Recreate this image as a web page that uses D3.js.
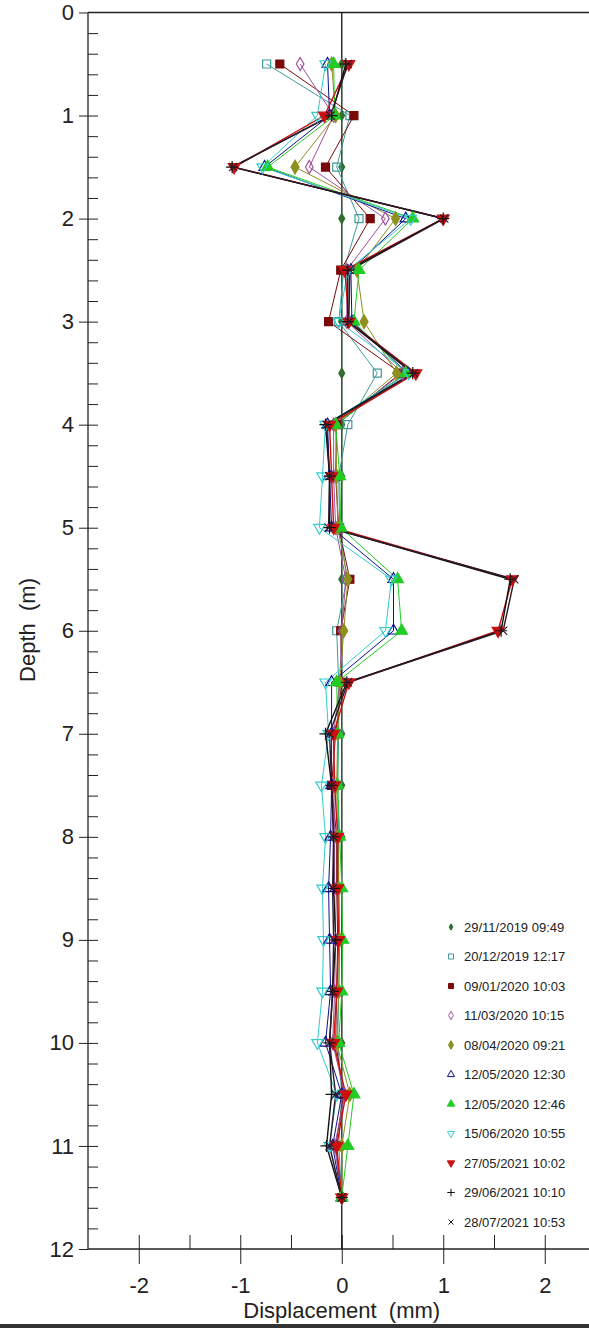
<!DOCTYPE html>
<html>
<head>
<meta charset="utf-8">
<script src="https://d3js.org/d3.v7.min.js"></script>
<style>
  body { margin: 0; background: #fff; }
  text { font-family: Arial, "Liberation Sans", sans-serif; fill: #222; }
</style>
</head>
<body>
<div id="my_dataviz"></div>
<script>
// depths of the readings (m)
var depths = [0.5, 1, 1.5, 2, 2.5, 3, 3.5, 4, 4.5, 5, 5.5, 6, 6.5, 7, 7.5, 8, 8.5, 9, 9.5, 10, 10.5, 11, 11.5];

// reading dates (legend)
var readingNames = ["29/11/2019 09:49", "20/12/2019 12:17", "09/01/2020 10:03", "11/03/2020 10:15",
                    "08/04/2020 09:21", "12/05/2020 12:30", "12/05/2020 12:46", "15/06/2020 10:55",
                    "27/05/2021 10:02", "29/06/2021 10:10", "28/07/2021 10:53"];

// displacement (mm) for each reading, top to bottom
var r20191129 = [0, 0, 0, 0, 0, 0, 0, 0, 0, 0, 0, 0, 0, 0, 0, 0, 0, 0, 0, 0, 0, 0, 0];
var r20191220 = [-0.74, 0.08, -0.05, 0.17, 0.02, -0.03, 0.35, 0.06, -0.03, -0.02, 0.05, -0.05, -0.03, -0.03, -0.04, -0.03, -0.03, -0.02, -0.03, -0.04, 0.0, -0.03, 0];
var r20200109 = [-0.61, 0.12, -0.16, 0.28, -0.01, -0.13, 0.58, -0.05, -0.06, -0.03, 0.08, -0.01, 0.0, -0.06, -0.1, -0.05, -0.05, -0.04, -0.05, -0.06, 0.02, -0.06, 0];
var r20200311 = [-0.41, -0.08, -0.32, 0.43, 0.05, 0.05, 0.6, -0.08, -0.08, -0.06, 0.04, 0.0, -0.02, -0.08, -0.08, -0.07, -0.07, -0.06, -0.07, -0.09, 0.03, -0.07, 0];
var r20200408 = [-0.1, -0.06, -0.46, 0.53, 0.15, 0.22, 0.54, -0.06, -0.05, -0.04, 0.06, 0.02, -0.02, -0.04, -0.05, -0.04, -0.03, -0.02, -0.03, -0.05, 0.08, 0.0, 0];
var r20200512a = [-0.14, -0.12, -0.76, 0.63, 0.09, 0.1, 0.65, -0.14, -0.12, -0.1, 0.51, 0.51, -0.1, -0.1, -0.1, -0.11, -0.13, -0.12, -0.11, -0.16, 0.0, -0.09, 0];
var r20200512b = [-0.08, -0.07, -0.73, 0.7, 0.17, 0.12, 0.63, -0.06, -0.02, -0.01, 0.55, 0.59, -0.05, -0.04, -0.04, -0.02, 0.0, 0.01, 0.0, -0.03, 0.12, 0.06, 0];
var r20200615 = [-0.16, -0.24, -0.78, 0.68, 0.06, -0.03, 0.66, -0.16, -0.19, -0.22, 0.49, 0.43, -0.16, -0.13, -0.2, -0.16, -0.19, -0.18, -0.19, -0.24, -0.05, -0.12, 0];
var r20210527 = [0.07, -0.17, -1.06, 1.0, 0.03, 0.07, 0.73, -0.12, -0.1, -0.08, 1.68, 1.54, 0.07, -0.08, -0.07, -0.04, -0.04, -0.03, -0.05, -0.08, 0.04, -0.05, 0];
var r20210629 = [0.04, -0.1, -1.08, 1.0, 0.06, 0.06, 0.7, -0.16, -0.12, -0.12, 1.66, 1.57, 0.05, -0.16, -0.1, -0.08, -0.08, -0.06, -0.09, -0.12, -0.1, -0.15, 0];
var r20210728 = [0.06, -0.11, -1.07, 1.01, 0.08, 0.07, 0.71, -0.15, -0.12, -0.13, 1.7, 1.59, 0.06, -0.12, -0.1, -0.08, -0.09, -0.08, -0.09, -0.12, -0.06, -0.12, 0];

var readingValues = [r20191129, r20191220, r20200109, r20200311, r20200408, r20200512a,
                     r20200512b, r20200615, r20210527, r20210629, r20210728];

// axis ticks
var depthTicks = [0, 1, 2, 3, 4, 5, 6, 7, 8, 9, 10, 11, 12];
var dispTicks = [-2, -1, 0, 1, 2];

// marker styles per reading
var colors = ["#2f6f2f", "#3f9a9a", "#7a0a0a", "#a050a0", "#8f8f1f", "#10108f",
              "#22cc22", "#33cccc", "#cc1010", "#111111", "#2a1a2a"];
var markers = [
  {type: d3.symbolDiamond, fill: true, size: 30},
  {type: d3.symbolSquare, fill: false, size: 64},
  {type: d3.symbolSquare, fill: true, size: 64},
  {type: d3.symbolDiamond, fill: false, size: 50},
  {type: d3.symbolDiamond, fill: true, size: 55},
  {type: d3.symbolTriangle, fill: false, size: 55},
  {type: d3.symbolTriangle, fill: true, size: 60},
  {type: d3.symbolTriangle, fill: false, size: 55, rot: 180},
  {type: d3.symbolTriangle, fill: true, size: 60, rot: 180},
  {type: d3.symbolPlus, fill: false, size: 50},
  {type: d3.symbolTimes, fill: false, size: 45}
];

var W = 589, H = 1328;
var svg = d3.select("#my_dataviz")
  .append("svg")
    .attr("width", W)
    .attr("height", H);

var x = d3.scaleLinear().domain([-2.5, 2.5]).range([88, 595.5]);
var y = d3.scaleLinear().domain([0, 12]).range([12.5, 1249]);

// Y axis: labels and outer half of the major ticks
svg.append("g")
  .attr("transform", "translate(88,0)")
  .call(d3.axisLeft(y).tickValues(depthTicks).tickSize(9).tickSizeOuter(0).tickPadding(5).tickFormat(d => String(d)))
  .call(g => g.select(".domain").remove())
  .call(g => g.selectAll("line").attr("stroke", "#222"))
  .call(g => g.selectAll("text").style("font-size", "22px").attr("fill", "#222"));

// Y axis: inner ticks every 0.2 m
svg.append("g")
  .attr("transform", "translate(88,0)")
  .call(d3.axisLeft(y).tickValues(d3.range(1, 60).map(d => d / 5)).tickSize(-10).tickSizeOuter(0).tickFormat(""))
  .call(g => g.select(".domain").remove())
  .call(g => g.selectAll("line").attr("stroke", "#222"));

// X axis: labels and lower part of major ticks
svg.append("g")
  .attr("transform", "translate(0,1249)")
  .call(d3.axisBottom(x).tickValues(dispTicks).tickSize(15).tickSizeOuter(0).tickPadding(13).tickFormat(d => String(d)))
  .call(g => g.select(".domain").remove())
  .call(g => g.selectAll("line").attr("stroke", "#222"))
  .call(g => g.selectAll("text").style("font-size", "22px").attr("fill", "#222"));

// X axis: inner ticks every 0.5 mm
svg.append("g")
  .attr("transform", "translate(0,1249)")
  .call(d3.axisBottom(x).tickValues([-2, -1.5, -1, -0.5, 0, 0.5, 1, 1.5, 2]).tickSize(-14).tickSizeOuter(0).tickFormat(""))
  .call(g => g.select(".domain").remove())
  .call(g => g.selectAll("line").attr("stroke", "#222"));

// frame lines: left, top, bottom and the zero line
svg.append("line").attr("x1", 88).attr("x2", 88).attr("y1", y(0)).attr("y2", y(12)).attr("stroke", "#222").attr("stroke-width", 1.3);
svg.append("line").attr("x1", 88).attr("x2", W).attr("y1", y(0)).attr("y2", y(0)).attr("stroke", "#222").attr("stroke-width", 1.3);
svg.append("line").attr("x1", 88).attr("x2", W).attr("y1", y(12)).attr("y2", y(12)).attr("stroke", "#222").attr("stroke-width", 1.3);
svg.append("line").attr("x1", x(0)).attr("x2", x(0)).attr("y1", y(0)).attr("y2", y(12)).attr("stroke", "#111").attr("stroke-width", 1.3);

// axis titles
svg.append("text")
  .attr("transform", "translate(35,630) rotate(-90)")
  .attr("text-anchor", "middle")
  .style("font-size", "22px")
  .attr("xml:space", "preserve")
  .text("Depth  (m)");

svg.append("text")
  .attr("x", x(0))
  .attr("y", 1318)
  .attr("text-anchor", "middle")
  .style("font-size", "22px")
  .attr("xml:space", "preserve")
  .text("Displacement  (mm)");

// series lines + markers
var line = d3.line()
  .x(d => x(d.v))
  .y(d => y(d.depth));

readingValues.forEach(function(vals, i) {
  var pts = vals.map((v, j) => ({depth: depths[j], v: v}));
  svg.append("path")
    .datum(pts)
    .attr("fill", "none")
    .attr("stroke", colors[i])
    .attr("stroke-width", i >= 8 ? 1.4 : 1)
    .attr("d", line);
});

readingValues.forEach(function(vals, i) {
  var m = markers[i];
  var pts = vals.map((v, j) => ({depth: depths[j], v: v}));
  svg.append("g").selectAll("path")
    .data(pts)
    .join("path")
    .attr("transform", d => "translate(" + x(d.v) + "," + y(d.depth) + ")" + (m.rot ? " rotate(" + m.rot + ")" : ""))
    .attr("d", d3.symbol().type(m.type).size(m.size))
    .attr("fill", m.fill ? colors[i] : "none")
    .attr("stroke", colors[i])
    .attr("stroke-width", 1.2);
});

// legend
var legend = svg.append("g");
readingNames.forEach(function(name, i) {
  var m = markers[i];
  var ly = 927 + i * 29.5;
  legend.append("path")
    .attr("transform", "translate(451," + ly + ")" + (m.rot ? " rotate(" + m.rot + ")" : ""))
    .attr("d", d3.symbol().type(m.type).size(m.size * 0.4))
    .attr("fill", m.fill ? colors[i] : "none")
    .attr("stroke", colors[i])
    .attr("stroke-width", 1);
  legend.append("text")
    .attr("x", 464)
    .attr("y", ly)
    .attr("dy", "0.35em")
    .style("font-size", "13px")
    .attr("fill", "#333")
    .text(name);
});

// bottom border
svg.append("rect").attr("x", 0).attr("y", 1324).attr("width", W).attr("height", 4).attr("fill", "#333");
</script>
</body>
</html>
